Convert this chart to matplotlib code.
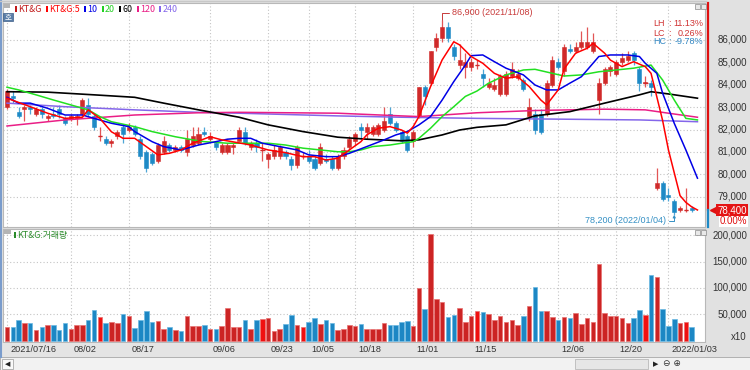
import numpy as np
import matplotlib
matplotlib.use("Agg")
import matplotlib.pyplot as plt
import matplotlib.transforms as mtransforms
from matplotlib.patches import Rectangle

plt.rcParams['font.family'] = ['Liberation Sans', 'Noto Sans CJK KR', 'DejaVu Sans']
LEG_FAM, LEG_FS = ['Noto Sans CJK KR', 'DejaVu Sans'], 6.4

# ---------------- data (KT&G daily, 2021/07/16 ~ 2022/01) ----------------
opens = [83000, 83500, 82800, 82900, 83000, 82700, 82900, 82500, 82700, 82900,
         82500, 82500, 82500, 82700, 83100, 82600, 81700, 81600, 81400, 81700,
         82100, 82000, 82100, 81600, 81000, 80900, 80600, 81000, 81300, 81100,
         81200, 81000, 81300, 81400, 81900, 81600, 81400, 81000, 81000, 81200,
         81500, 81900, 81200, 81400, 81100, 80700, 80800, 80800, 81000, 80700,
         80400, 80800, 80800, 80700, 80500, 80700, 80700, 80300, 80800, 81200,
         81500, 82100, 81900, 81800, 81800, 82000, 82700, 82300, 81900, 81700,
         81500, 82600, 83900, 84100, 85700, 86100, 86600, 85700, 84900, 84800,
         84800, 84900, 84500, 83900, 83800, 83600, 83600, 84400, 84300, 84200,
         82600, 82700, 82700, 82700, 84000, 85000, 84600, 85600, 85500, 85700,
         85700, 85500, 83300, 84100, 84600, 84500, 85000, 85100, 85400, 84700,
         84100, 84100, 79400, 79600, 79100, 78800, 78400, 78400, 78500]
highs = [83800, 83700, 83000, 83100, 83100, 83000, 83000, 82700, 83000, 83100,
         82600, 82700, 82700, 83400, 83400, 82700, 82100, 81700, 81600, 82000,
         82200, 82300, 82200, 81700, 81100, 81000, 81400, 81700, 81400, 81300,
         81300, 82000, 82100, 82100, 82100, 81900, 81500, 81400, 81400, 81400,
         82100, 82100, 81500, 81600, 81400, 81000, 81300, 81300, 81100, 80800,
         81300, 81000, 81100, 80800, 81400, 80900, 80800, 80900, 81200, 81700,
         81900, 82300, 82300, 82200, 82300, 83000, 83000, 82400, 82000, 81800,
         82000, 83900, 84000, 85500, 86300, 86900, 86800, 85800, 85800, 85400,
         85200, 85100, 84700, 84300, 84300, 84500, 84600, 85000, 84700, 84300,
         83400, 82900, 82900, 84200, 85300, 85200, 85800, 85800, 85900, 86400,
         86600, 86300, 84300, 84800, 84900, 85100, 85400, 85500, 85500, 84800,
         84400, 84200, 80300, 79700, 79400, 78900, 78600, 79400, 78600]
lows = [82900, 83200, 82500, 82400, 82700, 82600, 82500, 82400, 82500, 82500,
        82200, 82400, 82200, 82600, 82600, 82000, 81500, 81300, 81200, 81600,
        81400, 81900, 81700, 80700, 80100, 80400, 80500, 80900, 81000, 81000,
        81000, 80800, 81200, 81300, 81700, 81500, 81100, 80900, 80900, 80900,
        81500, 81300, 81100, 81000, 80600, 80300, 80700, 80700, 80700, 80200,
        80300, 80700, 80500, 80200, 80400, 80500, 80200, 80200, 80700, 81100,
        81300, 81600, 81600, 81700, 81700, 81900, 82200, 81900, 81400, 81000,
        81200, 82500, 83100, 84000, 85500, 85900, 85900, 85100, 84700, 84300,
        84600, 84700, 83900, 83800, 83700, 83500, 83500, 84300, 84200, 83700,
        82400, 81800, 81800, 82600, 83900, 84700, 84400, 85400, 85400, 85600,
        85600, 85400, 82700, 84000, 84400, 84400, 84900, 85000, 84900, 83700,
        83900, 83500, 79300, 78800, 78800, 78200, 78300, 78300, 78300]
closes = [83700, 83400, 82600, 83000, 82900, 82900, 82700, 82600, 82600, 82700,
          82300, 82600, 82600, 83300, 82700, 82100, 81700, 81400, 81500, 81900,
          81800, 82100, 81800, 80800, 80300, 80500, 81300, 81500, 81100, 81200,
          81100, 81600, 81700, 81800, 81800, 81700, 81200, 81300, 81300, 81300,
          82000, 81400, 81400, 81200, 81100, 80900, 81100, 81200, 80800, 80400,
          81200, 80800, 80600, 80300, 81200, 80600, 80300, 80800, 81100, 81600,
          81800, 82000, 82100, 82100, 82200, 82400, 82300, 82000, 81500, 81100,
          81900, 83900, 83500, 85500, 86100, 86600, 86100, 85300, 85100, 85000,
          85000, 84900, 84300, 84100, 84000, 84400, 84500, 84700, 84500, 83800,
          83000, 82000, 81900, 84100, 85100, 84800, 85700, 85500, 85700, 85900,
          85900, 85900, 84100, 84700, 84800, 85000, 85200, 85300, 85100, 84100,
          84100, 83900, 79600, 78900, 79000, 78300, 78500, 78400, 78400]
volumes = [25000, 25000, 39000, 33800, 33800, 19800, 25000, 28800, 28800, 19800,
           32600, 21000, 28800, 29500, 39000, 58200, 45400, 33800, 35700, 33800,
           50500, 46700, 24500, 38300, 56300, 34400, 37000, 22700, 25000, 19800,
           17900, 47300, 28200, 27500, 28800, 21700, 21700, 27500, 61500, 26300,
           26300, 39000, 21000, 38500, 41200, 42500, 17900, 21000, 30900, 48500,
           30300, 26300, 35700, 42500, 30900, 38500, 33800, 19800, 21700, 28800,
           27500, 30900, 21700, 21700, 21700, 32600, 29500, 29500, 35700, 37000,
           28200, 100000, 59500, 203000, 78800, 73600, 45400, 48500, 62700, 35700,
           46700, 56300, 55000, 50500, 39000, 47300, 35700, 39000, 29500, 47300,
           65900, 101200, 56300, 56300, 45400, 39000, 45400, 41900, 51800, 30900,
           43200, 35700, 144800, 53100, 47300, 47300, 42500, 32600, 43200, 57600,
           48500, 124200, 120300, 59500, 28200, 41200, 32600, 35700, 25200]

high_date = "2021/11/08"
low_date = "2022/01/04"

tick_idx = [0, 11, 21, 35, 45, 52, 60, 70, 80, 95, 105, 114]
tick_labels = ['2021/07/16', '08/02', '08/17', '09/06', '09/23', '10/05',
               '10/18', '11/01', '11/15', '12/06', '12/20', '2022/01/03']

# moving averages (day index, value)
ma5_idx = [0, 4, 7, 10, 13, 14, 16, 18, 20, 22, 24, 26, 28, 30, 32, 35, 37, 39, 42, 45,
           48, 51, 53, 55, 57, 59, 61, 62, 64, 66, 68, 69, 70, 71, 73, 75, 77, 78, 80, 82,
           84, 86, 88, 90, 92, 93, 95, 96, 98, 100, 101, 103, 104, 106, 108, 110, 111, 113,
           114, 116, 117, 118, 119]
ma5_val = [83400, 83020, 82730, 82500, 82550, 82880, 82500, 81900, 81610, 81610, 81240,
           80870, 80940, 81090, 81390, 81680, 81540, 81450, 81310, 81090, 80970, 80790,
           80790, 80640, 80720, 81090, 81460, 81760, 82060, 82130, 81980, 81840, 82130,
           82580, 83920, 85110, 85920, 85780, 85260, 84960, 84510, 84290, 84360, 83920,
           83320, 83100, 83770, 84700, 85410, 85630, 85850, 85410, 85100, 84810, 85030,
           84810, 84510, 82400, 81090, 79050, 78750, 78550, 78410]
ma10_idx = [0, 2, 4, 7, 10, 13, 15, 18, 21, 22, 25, 27, 30, 33, 36, 38, 40, 42, 44, 47,
            50, 52, 55, 57, 59, 62, 65, 67, 69, 71, 73, 75, 77, 79, 80, 82, 84, 86, 89, 91,
            93, 95, 97, 99, 101, 102, 104, 107, 109, 110, 112, 113, 115, 117, 119]
ma10_val = [83440, 83180, 83180, 82950, 82650, 82650, 82500, 82280, 82130, 81910, 81460,
            81240, 81090, 81310, 81460, 81570, 81610, 81610, 81390, 81240, 81090, 80870,
            80790, 80790, 80940, 81240, 81540, 81760, 81910, 82210, 82580, 83320, 84140,
            84880, 85300, 85330, 85030, 84740, 84440, 83990, 83770, 83770, 84070, 84360,
            84960, 85260, 85330, 85330, 85260, 84960, 84510, 83620, 82280, 81090, 79830]
ma20_idx = [0, 2, 5, 8, 11, 14, 16, 18, 22, 25, 29, 32, 34, 38, 40, 45, 48, 51, 54, 57,
            59, 61, 63, 66, 68, 70, 71, 73, 75, 77, 79, 81, 83, 86, 89, 91, 94, 96, 99, 102,
            105, 108, 111, 113, 115, 117, 119]
ma20_val = [83890, 83770, 83550, 83320, 83100, 82880, 82580, 82350, 82130, 81910, 81680,
            81540, 81460, 81390, 81390, 81390, 81310, 81170, 81090, 81010, 81010, 81090,
            81240, 81310, 81390, 81460, 81610, 82060, 82580, 83020, 83480, 83720, 84070,
            84440, 84660, 84690, 84510, 84390, 84440, 84580, 84660, 84740, 84880, 84210,
            83320, 82500, 82430]
ma60_idx = [0, 7, 15, 22, 27, 33, 40, 45, 51, 57, 62, 68, 71, 75, 78, 81, 86, 91, 97,
            103, 109, 111, 114, 119]
ma60_val = [83690, 83670, 83550, 83440, 83180, 82880, 82550, 82210, 81910, 81660, 81570,
            81500, 81540, 81760, 81980, 82100, 82210, 82610, 82800, 83180, 83550, 83690,
            83590, 83400]
ma120_idx = [0, 10, 22, 33, 40, 57, 68, 71, 81, 91, 103, 110, 114, 119]
ma120_val = [82160, 82430, 82650, 82750, 82770, 82730, 82610, 82580, 82750, 82850, 82910,
             82880, 82730, 82550]
ma240_idx = [0, 10, 22, 33, 40, 57, 68, 81, 97, 109, 119]
ma240_val = [83180, 83020, 82880, 82770, 82730, 82610, 82550, 82500, 82460, 82430, 82350]

# ---------------- figure ----------------
W, H = 750, 370
fig = plt.figure(figsize=(7.5, 3.7), dpi=100, facecolor='#e1e1e1')


def fx(px):
    return px / W


def fy(py):
    return 1 - py / H


def prect(x0, y0, x1, y1, **kw):
    fig.patches.append(Rectangle((fx(x0), fy(y1)), (x1 - x0) / W, (y1 - y0) / H,
                                 transform=fig.transFigure, **kw))


RED = '#d02a2a'
BLUE = '#1e8ac6'
GRID = dict(color='#c4c4c4', linestyle=(0, (1, 2)), linewidth=0.8)

ax = fig.add_axes([fx(3), fy(227), 702 / W, 224 / H])
axv = fig.add_axes([fx(3), fy(342), 702 / W, 113 / H], sharex=ax)

n = len(closes)
x = np.arange(n)
o = np.array(opens)
c = np.array(closes)
hi = np.array(highs)
lo = np.array(lows)
up = c >= o
cols = np.where(up, RED, BLUE)
wick_cols = np.where(up, '#e25555', '#4ea6d6')

# candles
ax.vlines(x, lo, hi, colors=wick_cols, linewidth=0.9, zorder=3)
body_h = np.abs(c - o)
ax.bar(x, np.where(body_h == 0, 1, body_h), bottom=np.minimum(o, c), width=0.7,
       color=cols, edgecolor=cols, linewidth=0.4, zorder=4)
doji = body_h == 0
ax.hlines(c[doji], x[doji] - 0.4, x[doji] + 0.4, colors=np.array(cols)[doji],
          linewidth=1.0, zorder=4)

# moving averages
ax.plot(ma240_idx, ma240_val, color='#8466ea', lw=1.1, zorder=5)
ax.plot(ma120_idx, ma120_val, color='#ea1e86', lw=1.1, zorder=5)
ax.plot(ma60_idx, ma60_val, color='#000000', lw=1.2, zorder=5)
ax.plot(ma20_idx, ma20_val, color='#22e022', lw=1.1, zorder=6)
ax.plot(ma10_idx, ma10_val, color='#0000e6', lw=1.1, zorder=6)
ax.plot(ma5_idx, ma5_val, color='#ff0000', lw=1.1, zorder=7)

ax.set_xlim(-0.69, 120.3)
ax.set_ylim(77650, 87650)
ax.set_xticks(tick_idx)
ax.set_yticks(np.arange(79000, 86001, 1000))
ax.grid(True, **GRID)
ax.set_axisbelow(True)
ax.tick_params(length=0, labelleft=False, labelbottom=False)

# volume
vol_cols = np.where(up, '#cc2424', '#1c87c4')
vol_cols = np.where(doji, '#f01010', vol_cols)
axv.bar(x, volumes, width=0.78, color=vol_cols, edgecolor=np.where(up, '#e87070', '#6ab8e2'),
        linewidth=0.5, zorder=3)
axv.set_ylim(-2850, 212000)
axv.set_yticks([50000, 100000, 150000, 200000])
axv.grid(True, **GRID)
axv.set_axisbelow(True)
axv.tick_params(length=0, labelleft=False, labelbottom=False)

for a in (ax, axv):
    for s in a.spines.values():
        s.set_color('#b8b8b8')
        s.set_linewidth(0.8)

# right axis labels
bp = mtransforms.blended_transform_factory(fig.transFigure, ax.transData)
bv = mtransforms.blended_transform_factory(fig.transFigure, axv.transData)
for v in ax.get_yticks():
    fig.text(fx(747), v, f"{int(v):,}", transform=bp, ha='right', va='center',
             fontsize=7, color='#333333')
for v in axv.get_yticks():
    fig.text(fx(747), v, f"{int(v):,}", transform=bv, ha='right', va='center',
             fontsize=7, color='#333333')
fig.text(fx(747), fy(337), 'x10', ha='right', va='center', fontsize=7, color='#333333')

# current price bar / box
last = closes[-1]
chg = (closes[-1] - closes[-2]) / closes[-2] * 100
ax.plot([fx(708), fx(708)], [last, 87650], transform=bp, color='#e01010', lw=1.6,
        clip_on=False, zorder=8)
ax.plot([fx(708), fx(708)], [77650, last], transform=bp, color=BLUE, lw=1.6,
        clip_on=False, zorder=8)
ax.plot([fx(713)], [last], transform=bp, marker='<', ms=4.5, color='#e01010',
        clip_on=False, zorder=8)
fig.text(fx(747), last, f"{last:,}", transform=bp, ha='right', va='center', fontsize=7,
         color='white', bbox=dict(boxstyle='square,pad=0.12', fc='#e41414', ec='none'))
ax.annotate(f"{chg:.2f}%", xy=(fx(747), last), xycoords=bp, xytext=(0, -8),
            textcoords='offset points', ha='right', va='center', fontsize=7,
            color='#e01010', bbox=dict(boxstyle='square,pad=0.1', fc='white', ec='none'),
            annotation_clip=False)

# high / low annotations
hi_i = int(np.argmax(hi))
lo_i = int(np.argmin(lo))
ax.annotate(f"{hi[hi_i]:,} ({high_date})", xy=(hi_i, hi[hi_i]), xytext=(7, 5),
            textcoords='offset points', ha='left', va='center', fontsize=6.5,
            color='#c83a3a',
            arrowprops=dict(arrowstyle='-', color='#c83a3a', lw=0.7, shrinkA=0, shrinkB=0,
                            connectionstyle='angle,angleA=0,angleB=90'))
ax.annotate(f"{lo[lo_i]:,} ({low_date})", xy=(lo_i, lo[lo_i]), xytext=(-6, -4.5),
            textcoords='offset points', ha='right', va='center', fontsize=6.5,
            color='#3590c4',
            arrowprops=dict(arrowstyle='-|>', mutation_scale=4, color='#3590c4', lw=0.7,
                            shrinkA=0, shrinkB=0,
                            connectionstyle='angle,angleA=0,angleB=90'))

# LH / LC / HC
stats = [('LH', hi.max() / lo.min() - 1, '#d03434'),
         ('LC', last / lo.min() - 1, '#d03434'),
         ('HC', last / hi.max() - 1, '#3388c4')]
for k, (lab, val, col) in enumerate(stats):
    yy = fy(24 + 9 * k)
    fig.text(fx(653), yy, lab, ha='left', va='center', fontsize=6.5, color=col)
    fig.text(fx(668), yy, ':', ha='left', va='center', fontsize=6.5, color=col)
    fig.text(fx(703), yy, f"{val * 100:.2f}%", ha='right', va='center', fontsize=6.5,
             color=col)

# legend (top-left), laid out one after the other
renderer = fig.canvas.get_renderer()
prect(4, 4, 10, 8, fc='#b4b4b4', ec='none')
legend_items = [('KT&G', '#c01818'), ('KT&G:5', '#ff0000'), ('10', '#0000e6'),
                ('20', '#22d022'), ('60', '#000000'), ('120', '#ea1e86'),
                ('240', '#8466ea')]
cur = 15
for lab, col in legend_items:
    prect(cur, 6, cur + 2, 12, fc=col, ec='none')
    t = fig.text(fx(cur + 3.5), fy(9.5), lab, ha='left', va='center', fontsize=LEG_FS,
                 color=col, family=LEG_FAM)
    cur = t.get_window_extent(renderer).x1 + 4
prect(3, 13, 13, 21, fc='#5a7ea8', ec='#3f5f88', lw=0.5)
fig.text(fx(8), fy(17), '호', ha='center', va='center', fontsize=5.5, color='white',
         family=LEG_FAM)

# small window buttons
for bx in (695, 701):
    prect(bx, 4, bx + 5, 9, fc='#e8e8e8', ec='#8a8a8a', lw=0.5)
    prect(bx, 230, bx + 5, 235, fc='#e8e8e8', ec='#8a8a8a', lw=0.5)

# volume title
prect(4, 230, 11, 234, fc='#b4b4b4', ec='none')
prect(14, 232, 16, 238, fc='#2a8a2a', ec='none')
fig.text(fx(17.5), fy(235.5), 'KT&G:거래량', ha='left', va='center', fontsize=LEG_FS,
         color='#2a8a2a', family=LEG_FAM)

# date band and labels
prect(0, 343, 706, 357, fc='#e4e4e4', ec='none')
bd = mtransforms.offset_copy(
    mtransforms.blended_transform_factory(axv.transData, fig.transFigure),
    fig=fig, x=3, y=0, units='dots')
for ti, tl in zip(tick_idx, tick_labels):
    fig.text(ti, fy(350), tl, transform=bd, ha='left', va='center', fontsize=6.6,
             color='#333333')

# scroll bar
prect(0, 357, 750, 370, fc='#f2f2f2', ec='#a8a8a8', lw=0.6)
prect(2, 359, 13, 369, fc='#fafafa', ec='#9a9a9a', lw=0.5)
fig.text(fx(7.5), fy(364), '◀', ha='center', va='center', fontsize=5, color='#222222',
         family='DejaVu Sans')
prect(575, 359, 648, 369, fc='#e6e6e6', ec='#b0b0b0', lw=0.5)
fig.text(fx(656), fy(364), '▶', ha='center', va='center', fontsize=5, color='#222222',
         family='DejaVu Sans')
fig.text(fx(672), fy(364), '⊖ ⊕', ha='center', va='center', fontsize=6.5,
         color='#333333', family='DejaVu Sans')

# outer borders
fig.add_artist(plt.Line2D([fx(1), fx(1)], [fy(0), fy(357)], color='#7a9ccc', lw=1.5))
fig.add_artist(plt.Line2D([0, fx(706)], [fy(0.5), fy(0.5)], color='#c8c8c8', lw=1))

fig.savefig('out.png', dpi=100, facecolor=fig.get_facecolor())
